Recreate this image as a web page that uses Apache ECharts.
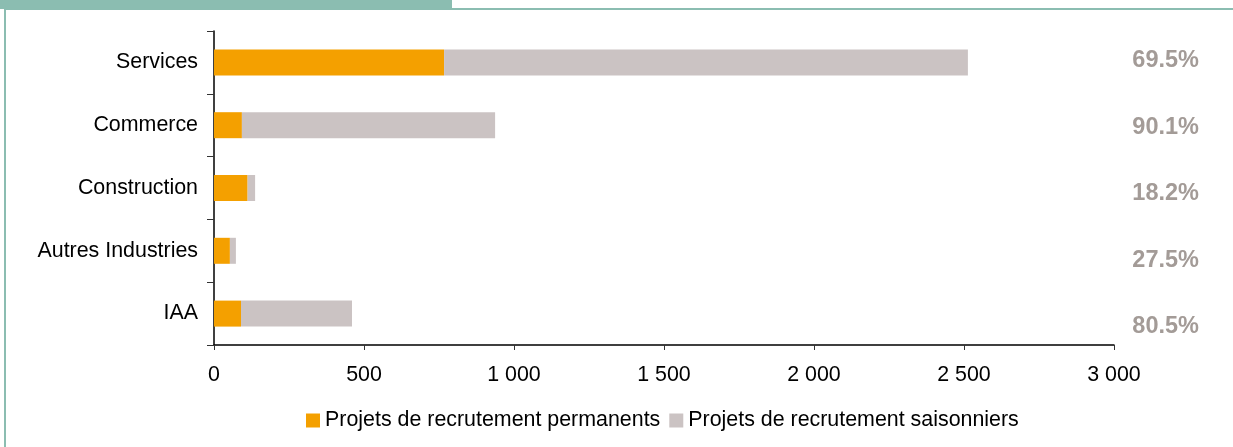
<!DOCTYPE html>
<html>
<head>
<meta charset="utf-8">
<script src="https://cdn.jsdelivr.net/npm/echarts@6/dist/echarts.min.js"></script>
<style>
    body { margin: 0; background: #fff; }
    #header { position: absolute; left: 0; top: 0; width: 452px; height: 9px; background: #8bbdb1; }
    #frame { position: absolute; left: 4px; top: 8px; right: 0; bottom: 0; border-left: 2px solid #8bbdb1; border-top: 2px solid #8bbdb1; }
    #main { position: absolute; left: 0; top: 0; width: 1233px; height: 447px; }
</style>
</head>
<body>
<div id="header"></div>
<div id="frame"></div>
<div id="main"></div>
<script>
// secteurs
var categories = ['Services', 'Commerce', 'Construction', 'Autres Industries', 'IAA'];
// projets de recrutement
var permanents = [767, 93, 112, 53, 90];
var saisonniers = [1746, 844, 25, 20, 370];
// part des saisonniers
var pctLabels = ['69.5%', '90.1%', '18.2%', '27.5%', '80.5%'];
var xTicks = { min: 0, max: 3000, interval: 500 };

var font = 'Liberation Sans, Arial, sans-serif';

var myChart = echarts.init(document.getElementById('main'));
var option = {
    animation: false,
    textStyle: { fontFamily: font },
    legend: {
        left: 301,
        top: 405,
        itemWidth: 14,
        itemHeight: 14,
        itemGap: 9,
        icon: 'rect',
        textStyle: { color: '#000', fontSize: 21.4, fontFamily: font },
        data: ['Projets de recrutement permanents', 'Projets de recrutement saisonniers']
    },
    grid: [
        { left: 214, top: 31, width: 900, height: 314 },
        { left: 1205, top: 27.75, width: 10, height: 332.5 }
    ],
    xAxis: [
        {
            gridIndex: 0,
            type: 'value',
            min: xTicks.min,
            max: xTicks.max,
            interval: xTicks.interval,
            splitLine: { show: false },
            axisLine: { show: true, lineStyle: { color: '#000', width: 1.5 } },
            axisTick: { show: true, length: 5, lineStyle: { color: '#333' } },
            axisLabel: {
                color: '#000',
                fontSize: 21.4,
                fontFamily: font,
                margin: 20,
                formatter: function (v) {
                    return String(v).replace(/\B(?=(\d{3})+(?!\d))/g, ' ');
                }
            }
        },
        { gridIndex: 1, type: 'value', min: 0, max: 1, show: false }
    ],
    yAxis: [
        {
            gridIndex: 0,
            type: 'category',
            inverse: true,
            data: categories,
            axisLine: { show: true, lineStyle: { color: '#000', width: 1.5 } },
            axisTick: { show: true, length: 7, lineStyle: { color: '#333' } },
            axisLabel: { color: '#000', fontSize: 21.4, fontFamily: font, margin: 16 }
        },
        {
            gridIndex: 1,
            type: 'category',
            inverse: true,
            data: pctLabels,
            axisLine: { show: false },
            axisTick: { show: false },
            axisLabel: { color: '#a39b97', fontSize: 23.5, fontWeight: 'bold', fontFamily: font, margin: 6 }
        }
    ],
    series: [
        {
            name: 'Projets de recrutement permanents',
            type: 'bar',
            stack: 'total',
            barWidth: 26,
            data: permanents,
            itemStyle: { color: '#f4a000' }
        },
        {
            name: 'Projets de recrutement saisonniers',
            type: 'bar',
            stack: 'total',
            barWidth: 26,
            data: saisonniers,
            itemStyle: { color: '#cbc3c3' }
        }
    ]
};
myChart.setOption(option);
</script>
</body>
</html>
